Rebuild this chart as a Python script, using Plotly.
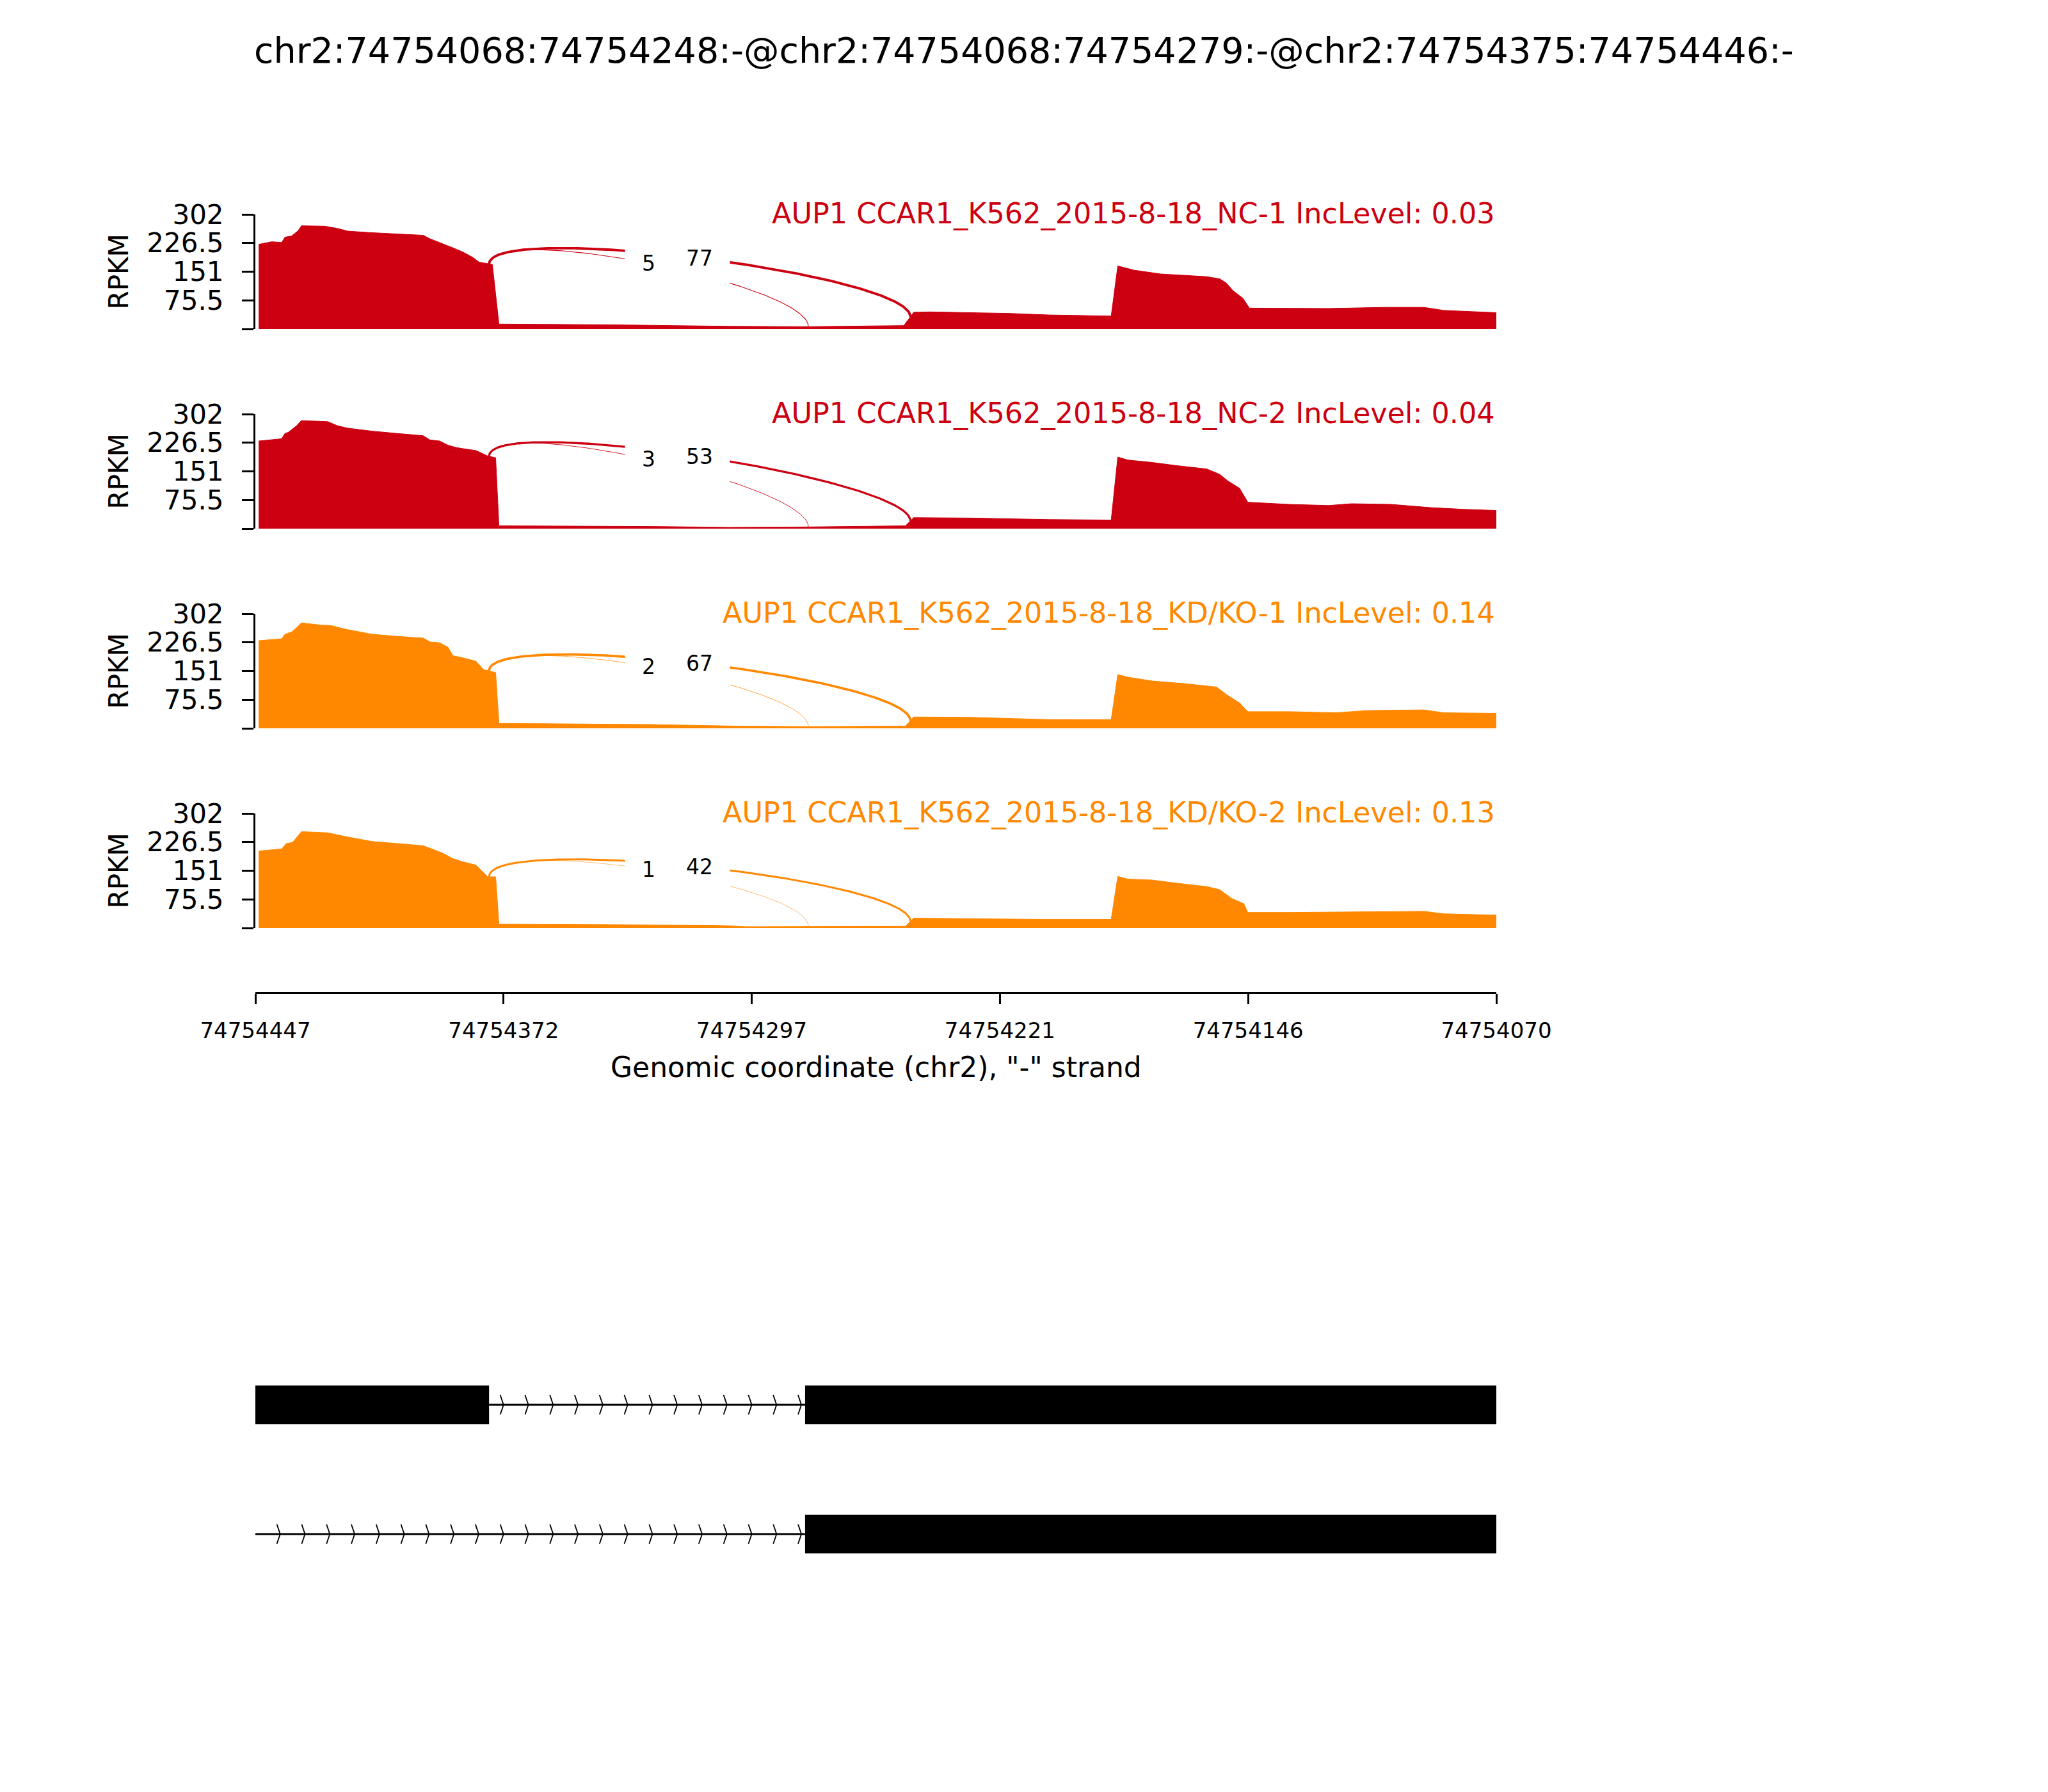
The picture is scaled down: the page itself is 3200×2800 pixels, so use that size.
import numpy as np
import plotly.graph_objects as go

# ---------------- data ----------------
TITLE = "chr2:74754068:74754248:-@chr2:74754068:74754279:-@chr2:74754375:74754446:-"
BASE = 74754000
X_START, X_END = 74754447, 74754070
x_tick_labels = ["74754447", "74754372", "74754297", "74754221", "74754146", "74754070"]
y_tick_vals = [0, 75.5, 151, 226.5, 302]
y_tick_labels = ["", "75.5", "151", "226.5", "302"]
Y_MAX = 302

sample_names = [
    "AUP1 CCAR1_K562_2015-8-18_NC-1",
    "AUP1 CCAR1_K562_2015-8-18_NC-2",
    "AUP1 CCAR1_K562_2015-8-18_KD/KO-1",
    "AUP1 CCAR1_K562_2015-8-18_KD/KO-2",
]
inc_levels = ["0.03", "0.04", "0.14", "0.13"]
sample_colors = ["#CC0011", "#CC0011", "#FF8800", "#FF8800"]

# coverage (genomic offset from BASE, RPKM)
nc1_pos = [446, 442, 439, 438, 436, 434, 433, 426, 422, 419, 412, 403, 396, 394, 391, 387, 384, 381, 379, 376,
           375, 373, 339, 303, 279, 250, 247, 242, 218, 206, 187, 185, 180, 172, 163, 158, 154, 152, 150, 147,
           145, 133, 121, 104, 92, 86, 78, 70]
nc1_val = [223, 230, 228, 242, 245, 259, 272, 271, 265, 258, 254, 250, 247, 238, 228, 214, 203, 189, 176, 171,
           170, 13, 11, 7, 6, 9, 44, 45, 41, 37, 34, 166, 155, 145, 140, 138, 132, 121, 101, 81,
           55, 54, 54, 57, 57, 49, 46, 43]

nc2_pos = [446, 442, 439, 438, 437, 434.5, 433, 425, 422, 419, 411.5, 404, 396, 394, 391, 388.5, 386, 384, 380,
           376.4, 374, 373, 327, 303, 279, 249.5, 247, 230, 206, 187, 185, 182, 174.5, 167, 158, 154, 151.6, 148,
           145.5, 133, 121, 114, 102, 90, 80, 70]
nc2_val = [231, 234, 237, 251, 254, 271, 285, 282, 271, 265, 257, 251, 245, 234, 231, 220, 214, 211, 206,
           191.5, 187, 7.4, 5.7, 3.4, 4.5, 7.4, 29, 28, 24, 22.7, 188.7, 181, 174.5, 166, 157.5, 143, 126, 106.5,
           69.7, 64, 61, 65.7, 64, 55.5, 51, 48]

kd1_pos = [446, 439, 438, 436, 434.5, 433, 427, 424, 420, 416, 411.5, 404, 396, 394, 391, 388.5, 387, 384, 380,
           377.7, 374, 373, 327, 300, 279, 249.5, 247, 230, 206, 187, 185, 182, 174.5, 165, 155, 151.6, 148,
           145.5, 133, 119, 109, 92, 86, 70]
kd1_val = [231, 236, 248, 254, 265, 278, 272, 271, 262, 255, 248, 242.5, 238, 228, 225.5, 214, 191.5, 186, 177,
           155, 147, 13, 10, 5.7, 4.5, 5.7, 30, 29, 23, 22.7, 141.7, 135, 124.7, 118, 109, 86.7, 67,
           44, 44, 41, 47, 48.7, 41, 39.7]

kd2_pos = [446, 439, 437.6, 435.7, 433, 425, 419, 411.5, 404, 396, 393.4, 390, 387, 384, 380, 376.4, 374, 373,
           307.5, 298, 249.5, 247, 230, 206, 187, 185, 182, 174.5, 167, 158, 154, 150.4, 146.7, 145.5, 133,
           109, 92, 86, 70]
kd2_val = [203, 208.5, 222.7, 225.5, 254, 251, 240, 228, 222.7, 217, 208.5, 197, 183, 174.5, 166, 135, 135, 10,
           7.4, 3.4, 4.5, 26, 24.4, 22.7, 22.7, 136, 129, 126.4, 118, 109.4, 101, 78, 64, 41, 41,
           43, 44, 37.4, 34]

coverage_pos = [nc1_pos, nc2_pos, kd1_pos, kd2_pos]
coverage_val = [nc1_val, nc2_val, kd1_val, kd2_val]

# junctions (left splice site, right splice site) and read counts per sample
junction_left = [74754376, 74754376]
junction_right = [74754248, 74754279]
junction_counts = [[77, 5], [53, 3], [67, 2], [42, 1]]

# gene model (0-based exon starts as in event id)
transcript_exons = [
    [(74754375, 74754446), (74754068, 74754279)],
    [(74754068, 74754279)],
]
transcript_introns = [
    [(74754279, 74754375)],
    [(74754279, 74754447)],
]

# ---------------- layout helpers ----------------
W, H = 3200, 2800
FONT = "DejaVu Sans"
PAGE_OFFSET = 8  # page body margin


def fx(p):
    return (p - PAGE_OFFSET) / W


def fy(p):
    return 1 - (p - PAGE_OFFSET) / H


AX_L, AX_R = 399, 2338
PANEL_TOP0, PANEL_H, PANEL_STEP = 335.0, 179.0, 312.0
X_AXIS_Y = 1551

fig = go.Figure()
layout = dict(
    template="none",
    width=W, height=H, margin=dict(l=0, r=0, t=0, b=0, pad=0, autoexpand=False),
    paper_bgcolor="white", plot_bgcolor="white", showlegend=False,
    font=dict(family=FONT, color="black"),
)
annotations = []
shapes = []

x_tick_vals = list(np.linspace(X_START, X_END, 6))
arc_h = 3.0 * Y_MAX / 8.0

for i in range(4):
    n = "" if i == 0 else str(i + 1)
    xa, ya = "x" + n, "y" + n
    color = sample_colors[i]
    pos = np.array(coverage_pos[i], dtype=float) + BASE
    val = np.array(coverage_val[i], dtype=float)
    top = PANEL_TOP0 + PANEL_STEP * i
    bot = top + PANEL_H

    fig.add_trace(go.Scatter(x=pos, y=val, mode="lines", fill="tozeroy",
                             line=dict(color=color, width=1), fillcolor=color,
                             xaxis=xa, yaxis=ya, hoverinfo="skip"))

    # junction arcs
    order = np.argsort(pos)
    for j in range(len(junction_left)):
        L, R = junction_left[j], junction_right[j]
        cnt = junction_counts[i][j]
        a = float(np.interp(L, pos[order], val[order]))
        b = float(np.interp(R, pos[order], val[order]))
        t = np.linspace(0, 1, 150)
        bx = (1 - t) ** 3 * L + 3 * (1 - t) ** 2 * t * L + 3 * (1 - t) * t ** 2 * R + t ** 3 * R
        by = (1 - t) ** 3 * a + 3 * (1 - t) ** 2 * t * (a + arc_h) + 3 * (1 - t) * t ** 2 * (b + arc_h) + t ** 3 * b
        fig.add_trace(go.Scatter(x=bx, y=by, mode="lines",
                                 line=dict(color=color, width=0.55 * cnt ** 0.45),
                                 xaxis=xa, yaxis=ya, hoverinfo="skip"))
        annotations.append(dict(x=(L + R) / 2, y=(a + b) / 2 + 0.75 * arc_h, xref=xa, yref=ya,
                                text=str(cnt), showarrow=False, font=dict(size=33, color="black"),
                                bgcolor="white", borderpad=26, xanchor="center", yanchor="middle"))

    xa_key = "xaxis" + n
    ya_key = "yaxis" + n
    xcfg = dict(domain=[fx(AX_L), fx(AX_R)], range=[X_START, X_END], anchor=ya,
                showgrid=False, zeroline=False, automargin=False)
    if i == 3:
        xcfg.update(anchor="free", position=fy(X_AXIS_Y), showline=True, linecolor="black", linewidth=3,
                    ticks="outside", ticklen=16, tickwidth=3, tickcolor="black",
                    tickvals=x_tick_vals, ticktext=x_tick_labels, tickfont=dict(size=34, family=FONT),
                    ticklabelstandoff=12)
    else:
        xcfg.update(showline=False, showticklabels=False, ticks="")
    layout[xa_key] = xcfg
    layout[ya_key] = dict(domain=[fy(bot), fy(top)], range=[0, Y_MAX], anchor=xa, automargin=False,
                          showgrid=False, zeroline=False, showline=True, linecolor="black", linewidth=3,
                          ticks="outside", ticklen=18, tickwidth=3, tickcolor="black",
                          tickvals=y_tick_vals, ticktext=y_tick_labels,
                          tickfont=dict(size=42, family=FONT), ticklabelstandoff=20)

    annotations.append(dict(x=fx(AX_R), y=fy(top - 1), xref="paper", yref="paper",
                            text=f"{sample_names[i]} IncLevel: {inc_levels[i]}", showarrow=False,
                            xanchor="right", yanchor="middle", font=dict(size=44.5, color=color)))
    annotations.append(dict(x=fx(185), y=fy((top + bot) / 2), xref="paper", yref="paper",
                            text="RPKM", textangle=-90, showarrow=False, xanchor="center", yanchor="middle",
                            font=dict(size=42, color="black")))

# x-axis title and figure title
annotations.append(dict(x=fx((AX_L + AX_R) / 2), y=fy(1667), xref="paper", yref="paper",
                        text='Genomic coordinate (chr2), "-" strand', showarrow=False,
                        xanchor="center", yanchor="middle", font=dict(size=44, color="black")))
annotations.append(dict(x=fx(1600), y=fy(78), xref="paper", yref="paper", text=TITLE, showarrow=False,
                        xanchor="center", yanchor="middle", font=dict(size=55.5, color="black")))

# ---------------- gene model ----------------
layout["xaxis5"] = dict(domain=[fx(AX_L), fx(AX_R)], range=[X_START, X_END], anchor="y5",
                        visible=False, showgrid=False, zeroline=False, automargin=False)
layout["yaxis5"] = dict(domain=[fy(2498), fy(2094)], range=[-0.5, 1.5], anchor="x5",
                        visible=False, showgrid=False, zeroline=False, automargin=False)

exon_half = 0.15
chev_dx, chev_dy = 1.0, 0.075
grid_step = (X_START - X_END) / 50.0
n_tx = len(transcript_exons)
for k in range(n_tx):
    row = n_tx - 1 - k
    for (s, e) in transcript_introns[k]:
        x0, x1 = min(s + 1, X_START), min(e + 1, X_START)
        fig.add_trace(go.Scatter(x=[x0, x1], y=[row, row], mode="lines", line=dict(color="black", width=3),
                                 xaxis="x5", yaxis="y5", hoverinfo="skip"))
        grid = X_END + grid_step * np.arange(0, 51)
        centers = grid[(grid > x0 + 0.5) & (grid < x1 - 1.0)]
        cx, cy = [], []
        for c in centers:
            cx += [c + chev_dx, c, c + chev_dx, None]
            cy += [row + chev_dy, row, row - chev_dy, None]
        fig.add_trace(go.Scatter(x=cx, y=cy, mode="lines", line=dict(color="black", width=1.8),
                                 xaxis="x5", yaxis="y5", hoverinfo="skip"))
    for (s, e) in transcript_exons[k]:
        x0 = float(np.clip(s + 1, X_END, X_START))
        x1 = float(np.clip(e + 1, X_END, X_START))
        shapes.append(dict(type="rect", xref="x5", yref="y5", x0=x0, x1=x1,
                           y0=row - exon_half, y1=row + exon_half,
                           fillcolor="black", line=dict(width=0)))

layout["annotations"] = annotations
layout["shapes"] = shapes
fig.update_layout(**layout)
fig.write_html("out.html")
